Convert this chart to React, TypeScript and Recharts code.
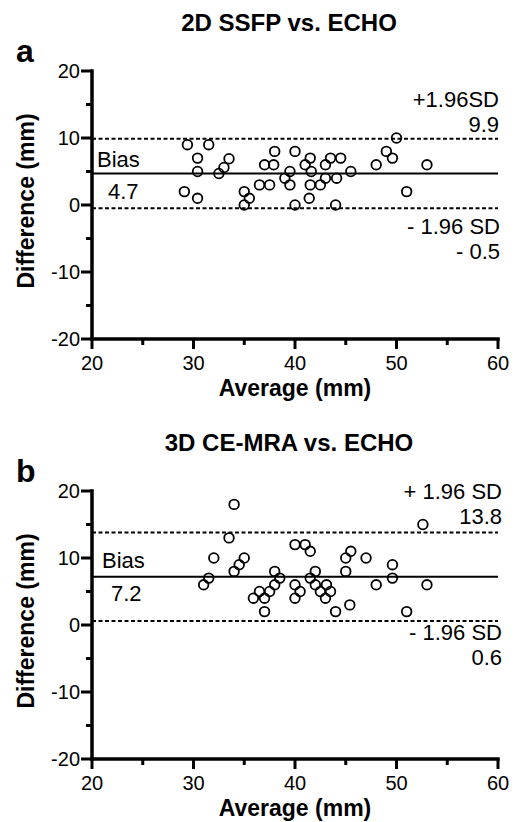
import { ScatterChart, Scatter, XAxis, YAxis, ReferenceLine } from 'recharts'

const FONT = '"Liberation Sans", Arial, Helvetica, sans-serif'

const X_TICKS = [20, 25, 30, 35, 40, 45, 50, 55, 60]
const Y_TICKS = [-20, -15, -10, -5, 0, 5, 10, 15, 20]

// panel a: 2D SSFP vs. ECHO
const ssfpAvg = [
  29.4, 31.5, 30.4, 30.4, 29.1, 30.4, 32.5, 33, 33.5, 35, 35.5, 35, 36.5, 37.5,
  37, 37.9, 38, 39, 39.5, 39.5, 40, 40, 41.5, 41, 41.6, 41.5, 41.4, 42.5, 43, 43,
  43.5, 44.5, 44.1, 44, 45.5, 48, 49, 49.6, 50, 51, 53,
]
const ssfpDiff = [
  9, 9, 7, 5, 2, 1, 4.7, 5.6, 6.9, 2, 1, 0, 3, 3, 6, 6, 8, 4, 5, 3, 8, 0, 7, 6, 5,
  3, 1, 3, 4, 6, 7, 7, 4, 0, 5, 6, 8, 7, 10, 2, 6,
]
const ssfpLimits = [9.9, 4.7, -0.5]
const ssfpLabels = [['+1.96SD', '9.9'], ['Bias', '4.7'], ['- 1.96 SD', '- 0.5']]

// panel b: 3D CE-MRA vs. ECHO
const mraAvg = [
  34, 33.5, 32, 31.5, 31, 35, 34.5, 34, 38, 38.5, 38, 37.5, 36.5, 35.9, 37, 37,
  40, 40, 40, 41, 41.5, 40.5, 42, 41.5, 42, 42.5, 43.1, 43, 43.5, 44, 45.4, 45,
  45, 45.5, 47, 48, 49.6, 49.6, 51, 53, 52.6,
]
const mraDiff = [
  18, 13, 10, 7, 6, 10, 9, 8, 8, 7, 6, 5, 5, 4, 4, 2, 12, 6, 4, 12, 11, 5, 8, 7,
  6, 5, 6, 4, 5, 2, 3, 8, 10, 11, 10, 6, 9, 7, 2, 6, 15,
]
const mraLimits = [13.8, 7.2, 0.6]
const mraLabels = [['+ 1.96 SD', '13.8'], ['Bias', '7.2'], ['- 1.96 SD', '0.6']]

// text offsets from each reference line: [upper, bias, lower], one entry per text line
const SSFP_OFFSETS = [
  [{ dx: 1, dy: -32 }, { dx: 1, dy: -7 }],
  [{ dx: 5, dy: -7 }, { dx: 16, dy: 25 }],
  [{ dx: 2, dy: 26 }, { dx: 2, dy: 51 }],
]
const MRA_OFFSETS = [
  [{ dx: 4, dy: -34 }, { dx: 4, dy: -9 }],
  [{ dx: 10, dy: -9 }, { dx: 19, dy: 24 }],
  [{ dx: 4, dy: 19 }, { dx: 4, dy: 44 }],
]

const W = 515
const PANEL_H = 420
const TICK_FONT = 20
const NOTE_FONT = 22

function XTick(props: any) {
  const { x, y, payload } = props
  const major = payload.value % 10 === 0
  return (
    <g>
      <line x1={x} x2={x} y1={y} y2={y + (major ? 10 : 6)} stroke="#000" strokeWidth={3} />
      {major && (
        <text x={x} y={y + 31} textAnchor="middle" fontSize={TICK_FONT} fontFamily={FONT} fill="#000">
          {payload.value}
        </text>
      )}
    </g>
  )
}

function YTick(props: any) {
  const { x, y, payload } = props
  const major = payload.value % 10 === 0
  return (
    <g>
      <line x1={x - (major ? 11 : 6)} x2={x} y1={y} y2={y} stroke="#000" strokeWidth={3} />
      {major && (
        <text x={x - 12} y={y} dy="0.355em" textAnchor="end" fontSize={TICK_FONT} fontFamily={FONT} fill="#000">
          {payload.value}
        </text>
      )}
    </g>
  )
}

function Ring(props: any) {
  const { cx, cy } = props
  if (cx == null || cy == null) return <g />
  return <circle cx={cx} cy={cy} r={4.8} fill="none" stroke="#000" strokeWidth={1.8} />
}

function lineLabel(lines: string[], offsets: { dx: number; dy: number }[], align: 'left' | 'right') {
  return (props: any) => {
    const vb = props.viewBox || {}
    const baseX = align === 'left' ? vb.x : vb.x + vb.width
    return (
      <g>
        {lines.map((t, i) => (
          <text
            key={i}
            x={baseX + offsets[i].dx}
            y={vb.y + offsets[i].dy}
            textAnchor={align === 'left' ? 'start' : 'end'}
            fontSize={NOTE_FONT}
            fontFamily={FONT}
            fill="#000"
          >
            {t}
          </text>
        ))}
      </g>
    )
  }
}

interface PanelProps {
  avg: number[]
  diff: number[]
  limits: number[]
  labels: string[][]
  offsets: { dx: number; dy: number }[][]
}

function Panel({ avg, diff, limits, labels, offsets }: PanelProps) {
  const data = avg.map((a, i) => ({ avg: a, diff: diff[i] }))
  return (
    <ScatterChart width={W} height={PANEL_H} margin={{ top: 71, right: 17, bottom: 0, left: 0 }}>
      <XAxis
        type="number"
        dataKey="avg"
        domain={[20, 60]}
        ticks={X_TICKS}
        interval={0}
        height={81}
        tickSize={0}
        tickMargin={0}
        tickLine={false}
        tick={<XTick />}
        axisLine={{ stroke: '#000', strokeWidth: 3.5, strokeLinecap: 'square' }}
        label={(p: any) => {
          const vb = p.viewBox || {}
          return (
            <text
              x={vb.x + vb.width / 2}
              y={vb.y + 57}
              textAnchor="middle"
              fontSize={23}
              fontWeight="bold"
              fontFamily={FONT}
              fill="#000"
            >
              Average (mm)
            </text>
          )
        }}
      />
      <YAxis
        type="number"
        dataKey="diff"
        domain={[-20, 20]}
        ticks={Y_TICKS}
        interval={0}
        width={92}
        tickSize={0}
        tickMargin={0}
        tickLine={false}
        tick={<YTick />}
        axisLine={{ stroke: '#000', strokeWidth: 3.5, strokeLinecap: 'square' }}
        label={(p: any) => {
          const vb = p.viewBox || {}
          const cx = 34
          const cy = vb.y + vb.height / 2 - 4
          return (
            <text
              x={cx}
              y={cy}
              transform={`rotate(-90, ${cx}, ${cy})`}
              textAnchor="middle"
              fontSize={23}
              fontWeight="bold"
              fontFamily={FONT}
              fill="#000"
            >
              Difference (mm)
            </text>
          )
        }}
      />
      <ReferenceLine
        y={limits[0]}
        stroke="#000"
        strokeWidth={2}
        strokeDasharray="4 2.5"
        label={lineLabel(labels[0], offsets[0], 'right')}
      />
      <ReferenceLine
        y={limits[1]}
        stroke="#000"
        strokeWidth={2}
        label={lineLabel(labels[1], offsets[1], 'left')}
      />
      <ReferenceLine
        y={limits[2]}
        stroke="#000"
        strokeWidth={2}
        strokeDasharray="4 2.5"
        label={lineLabel(labels[2], offsets[2], 'right')}
      />
      <Scatter data={data} shape={<Ring />} isAnimationActive={false} />
    </ScatterChart>
  )
}

export default function App() {
  return (
    <div style={{ position: 'absolute', left: 0, top: 0, width: W, height: 822, background: '#fff' }}>
      <div style={{ position: 'absolute', left: 0, top: 0 }}>
        <Panel avg={ssfpAvg} diff={ssfpDiff} limits={ssfpLimits} labels={ssfpLabels} offsets={SSFP_OFFSETS} />
      </div>
      <div style={{ position: 'absolute', left: 0, top: PANEL_H }}>
        <Panel avg={mraAvg} diff={mraDiff} limits={mraLimits} labels={mraLabels} offsets={MRA_OFFSETS} />
      </div>
      <svg
        width={W}
        height={822}
        style={{ position: 'absolute', left: 0, top: 0, pointerEvents: 'none' }}
      >
        <g fontFamily={FONT} fontWeight="bold" fill="#000">
          <text x={289} y={31} textAnchor="middle" fontSize={24}>2D SSFP vs. ECHO</text>
          <text x={16} y={62} fontSize={32}>a</text>
          <text x={289} y={451} textAnchor="middle" fontSize={24}>3D CE-MRA vs. ECHO</text>
          <text x={16} y={482} fontSize={32}>b</text>
        </g>
      </svg>
    </div>
  )
}
